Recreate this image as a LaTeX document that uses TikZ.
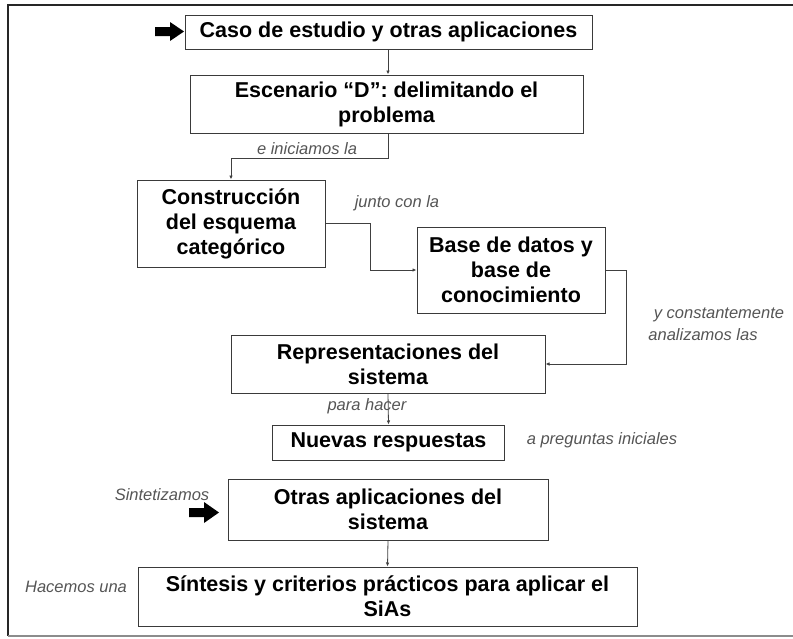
\documentclass[tikz,border=0pt]{standalone}
\usepackage{fontspec}
\setmainfont{Liberation Sans}
\usetikzlibrary{arrows.meta}
\definecolor{boxline}{HTML}{3A3A3A}
\definecolor{connline}{HTML}{404040}
\definecolor{labelgray}{HTML}{555555}
\tikzset{
  box/.style={draw=boxline, line width=1pt, align=center, inner sep=0pt,
    font=\fontsize{21.5}{25}\selectfont\bfseries, text=black},
  conn/.style={draw=connline, line width=0.8pt, -{Latex[length=4pt,width=3.5pt]}},
  lbl/.style={font=\fontsize{16.5}{19}\selectfont\itshape, text=labelgray, inner sep=0pt},
  framel/.style={line width=1.6pt, draw=black!85}
}
\begin{document}
\begin{tikzpicture}[x=1pt,y=-1pt]
\useasboundingbox (0,0) rectangle (793,638);
% outer frame
\draw[framel] (8,636) -- (8,5) -- (793,5);
\draw[line width=1.2pt, draw=black!45] (8,636) -- (793,636);

% boxes
\node[box, minimum width=407pt, minimum height=34pt] (b1) at (388.5,32) {Caso de estudio y otras aplicaciones};
\node[box, minimum width=393pt, minimum height=58pt] (b2) at (386.5,104) {Escenario “D”: delimitando el\\problema};
\node[box, minimum width=188pt, minimum height=87pt] (b3) at (231,223.5) {Construcción\\del esquema\\categórico};
\node[box, minimum width=188pt, minimum height=86pt] (b4) at (511,270) {Base de datos y\\base de\\conocimiento};
\node[box, minimum width=314pt, minimum height=58pt] (b5) at (388,364) {Representaciones del\\sistema};
\node[box, minimum width=232pt, minimum height=35pt] (b6) at (388.5,442.5) {Nuevas respuestas};
\node[box, minimum width=320pt, minimum height=61pt] (b7) at (388,509.5) {Otras aplicaciones del\\sistema};
\node[box, minimum width=499pt, minimum height=59pt] (b8) at (387.5,596.5) {Síntesis y criterios prácticos para aplicar el\\SiAs};

% connectors
\draw[conn] (b1.south -| 388,0) -- (b2.north -| 388,0);
\draw[conn] (b2.south -| 388,0) -- ++(0,25) -| (b3.north);
\draw[conn] (b3.east) -- ++(45,0) |- (b4.west);
\draw[conn] (b4.east) -- ++(21,0) |- (b5.east);
\draw[conn] (b5.south) -- (b6.north);
\draw[conn] (b7.south) -- (b8.north);

% labels
\node[lbl] (l1) at (307,149) {e iniciamos la};
\node[lbl] (l2) at (397,203) {junto con la};
\node[lbl] (l3) at (719,315) {y constantemente};
\node[lbl] (l4) at (703,335) {analizamos las};
\node[lbl] (l5) at (367,406) {para hacer};
\node[lbl] (l6) at (602,440) {a preguntas iniciales};
\node[lbl] (l7) at (162,495) {Sintetizamos};
\node[lbl] (l8) at (76,587) {Hacemos una};

% block arrows
\fill[black] (155,27) -- (170,27) -- (170,22) -- (184,31.5) -- (170,41) -- (170,36) -- (155,36) -- cycle;
\fill[black] (189,508) -- (204,508) -- (204,502) -- (219,512.5) -- (204,523) -- (204,517) -- (189,517) -- cycle;
\end{tikzpicture}
\end{document}
